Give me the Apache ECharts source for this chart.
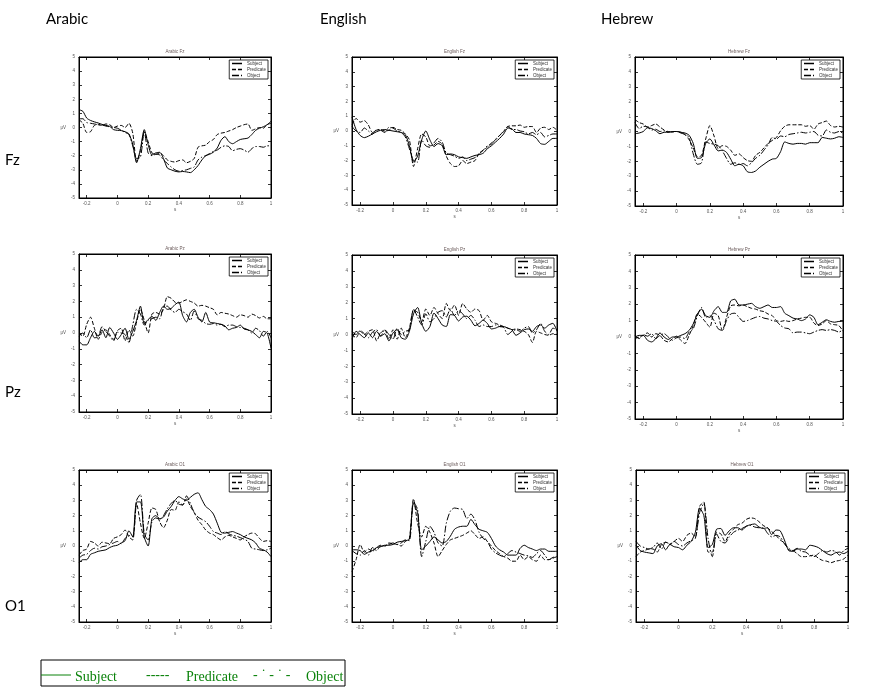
<!DOCTYPE html>
<html><head><meta charset="utf-8">
<script src="https://cdn.jsdelivr.net/npm/echarts@6/dist/echarts.min.js"></script>
<style>html,body{margin:0;padding:0;background:#fff}#c{width:874px;height:692px}</style>
</head><body><div id="c"></div>
<script>
const times = [-0.25,-0.225,-0.2,-0.175,-0.15,-0.125,-0.1,-0.075,-0.05,-0.025,0,
  0.025,0.05,0.075,0.1,0.125,0.15,0.175,0.2,0.225,0.25,
  0.275,0.3,0.325,0.35,0.375,0.4,0.425,0.45,0.475,0.5,
  0.525,0.55,0.575,0.6,0.625,0.65,0.675,0.7,0.725,0.75,
  0.775,0.8,0.825,0.85,0.875,0.9,0.925,0.95,0.975,1];
const xTicks = [-0.2,0,0.2,0.4,0.6,0.8,1];
const yTicks = [-5,-4,-3,-2,-1,0,1,2,3,4,5];
const languages = ['Arabic','English','Hebrew'];
const sites = ['Fz','Pz','O1'];
const conditions = ['Subject','Predicate','Object'];

const arabicFzSubject = [1.26,1.15,0.67,0.5,0.4,0.32,0.22,0.15,0.08,-0.15,-0.2, -0.22,-0.3,-0.45,-1.2,-2.5,-1.5,-0.15,-1.2,-1.95,-1.8, -1.76,-2.2,-2.87,-3.0,-3.1,-3.15,-3.12,-3.15,-3.2,-3.0, -2.7,-2.3,-2.0,-1.9,-1.75,-1.45,-0.9,-0.65,-1.0,-1.15, -1.0,-0.85,-0.8,-0.75,-0.5,-0.2,-0.05,0.05,0.2,0.44];
const arabicFzPredicate = [0.55,0.3,-0.35,-0.3,0.15,0.2,0.15,0.25,0.2,0.0,0.1, 0.15,0.0,0.3,-0.4,-2.4,-1.7,-0.3,-1.0,-1.8,-1.9, -1.8,-2.0,-2.3,-2.4,-2.45,-2.35,-2.3,-2.5,-2.4,-2.2, -1.4,-1.3,-1.25,-1.0,-0.85,-0.5,-0.4,-0.35,-0.25,-0.15, 0.0,0.1,0.2,0.25,-0.2,-0.1,0.0,-0.05,0.2,0.3];
const arabicFzObject = [0.62,0.62,0.35,0.3,0.25,0.2,0.18,0.1,0.05,0.0,-0.05, -0.2,-0.35,-0.5,-1.3,-2.2,-2.1,-0.3,-1.8,-2.0,-1.9, -1.95,-2.3,-2.55,-2.8,-3.0,-3.1,-3.05,-3.0,-2.9,-2.8, -2.3,-2.1,-2.0,-1.85,-1.7,-1.6,-1.4,-1.3,-1.35,-1.65, -1.55,-1.5,-1.6,-1.75,-1.5,-1.35,-1.35,-1.4,-1.3,-1.3];

const englishFzSubject = [0.95,0.1,-0.3,-0.45,-0.35,-0.2,-0.05,0.05,0.1,0.05,0.0, -0.05,-0.1,-0.25,-1.0,-2.1,-1.7,-0.6,0.0,-0.6,-1.05, -0.85,-1.0,-1.6,-1.55,-1.6,-1.75,-1.8,-1.85,-1.75,-1.65, -1.6,-1.5,-1.2,-1.0,-0.75,-0.5,-0.2,0.2,0.15,-0.1, -0.1,-0.2,-0.25,-0.3,-0.5,-0.85,-0.9,-0.7,-0.5,-0.5];
const englishFzPredicate = [0.4,0.85,0.6,0.7,0.4,-0.1,0.05,0.1,0.0,0.05,0.25, 0.1,0.05,-0.2,-0.6,-2.4,-1.2,-0.2,-0.4,-1.0,-0.95, -0.7,-0.9,-1.7,-2.2,-2.4,-2.35,-2.0,-2.2,-2.1,-2.0, -1.5,-1.3,-1.1,-0.8,-0.6,-0.3,-0.05,0.3,0.35,0.35, 0.4,0.25,0.3,0.3,-0.1,0.2,0.25,0.1,0.25,0.05];
const englishFzObject = [0.3,0.0,-0.1,0.2,0.0,-0.2,0.1,0.05,-0.1,0.25,0.2, 0.0,-0.1,-0.4,-1.2,-2.0,-2.1,-0.6,-1.0,-1.1,-0.8, -0.5,-0.75,-1.5,-1.6,-1.7,-1.85,-1.75,-2.0,-1.9,-1.8, -1.55,-1.3,-1.0,-0.9,-0.55,-0.3,0.0,0.3,0.1,0.1, 0.0,-0.05,-0.2,-0.1,-0.25,-0.1,-0.4,-0.3,-0.2,-0.2];

const hebrewFzSubject = [-0.15,-0.1,0.0,0.25,0.2,0.05,-0.15,-0.05,-0.05,0.0,0.0, -0.05,-0.1,-0.25,-0.8,-1.8,-1.75,-0.8,-0.5,-0.9,-1.3, -1.25,-1.4,-1.85,-2.3,-2.2,-2.3,-2.7,-2.75,-2.65,-2.4, -2.2,-2.0,-1.85,-1.8,-1.35,-0.7,-0.8,-0.85,-0.8,-0.8, -0.85,-0.75,-0.75,-0.75,-0.4,-0.45,-0.5,-0.45,-0.35,-0.4];
const hebrewFzPredicate = [0.8,0.6,0.5,0.3,0.4,0.5,0.3,0.1,-0.05,0.0,0.0, -0.05,-0.2,-0.55,-1.1,-1.7,-1.6,-0.5,0.4,-0.3,-1.15, -0.95,-1.0,-1.25,-1.6,-1.5,-1.75,-1.95,-2.0,-1.6,-1.4, -1.1,-0.8,-0.6,-0.4,0.05,0.35,0.45,0.45,0.45,0.45, 0.35,0.4,0.15,0.5,0.6,0.7,0.4,0.3,0.35,0.3];
const hebrewFzObject = [0.6,0.2,0.35,0.3,0.1,0.15,0.0,0.05,0.0,-0.05,0.0, -0.1,-0.2,-0.4,-1.5,-2.2,-2.1,-0.7,-0.8,-0.85,-0.95, -1.3,-1.8,-2.2,-2.1,-2.2,-2.15,-2.3,-2.1,-1.8,-1.6, -1.25,-0.9,-0.4,-0.5,-0.3,-0.35,-0.2,-0.15,-0.1,-0.05, -0.1,-0.05,0.0,-0.25,-0.3,0.1,-0.05,-0.1,0.0,-0.1];

const arabicPzSubject = [-0.5,-0.75,-0.75,-0.3,0.1,-0.2,0.2,-0.3,0.35,0.0,-0.4, -0.1,0.3,-0.4,0.1,0.8,1.7,0.6,0.85,1.05,0.8, 1.3,1.7,1.5,1.55,1.8,1.95,1.1,0.7,1.3,1.5, 1.0,0.7,1.3,0.7,0.65,0.6,0.55,0.45,0.2,0.3, 0.35,0.5,0.25,0.2,0.1,-0.1,-0.3,0.1,0.0,-0.95];
const arabicPzPredicate = [0.0,-0.2,0.55,1.0,0.3,-0.4,0.05,0.2,-0.1,-0.4,0.15, 0.3,-0.5,0.2,-0.2,0.7,1.5,0.8,0.0,1.2,1.3, 1.2,1.5,2.3,2.2,1.95,1.9,2.0,2.1,2.0,1.9, 1.7,1.75,1.7,1.6,1.5,1.15,1.3,1.25,1.2,1.1, 1.0,1.15,1.1,1.0,1.2,1.1,0.95,1.05,0.9,0.9];
const arabicPzObject = [-0.2,0.0,-0.3,0.2,-0.3,-0.25,0.4,0.1,-0.2,-0.5,0.05, 0.0,-0.1,-0.6,0.5,1.5,1.2,0.5,0.8,0.9,1.0, 0.9,1.65,1.7,1.45,1.3,1.5,1.35,1.2,0.8,1.4, 0.9,0.8,0.6,0.55,0.6,0.5,0.55,0.4,0.5,0.5, 0.4,0.35,0.3,0.2,0.0,0.3,0.15,-0.2,0.1,-0.3];

const englishPzSubject = [-0.3,0.2,0.0,-0.2,0.1,-0.2,0.2,-0.1,0.05,-0.4,0.1, 0.3,-0.2,-0.3,0.2,1.3,1.7,0.7,0.2,0.5,1.35, 1.0,0.6,0.5,1.25,1.2,0.85,1.1,1.15,0.9,0.55, 0.7,0.9,0.7,0.35,0.4,0.5,0.5,0.4,0.3,-0.05, 0.1,0.3,0.35,0.2,0.5,0.6,0.4,0.6,0.7,0.2];
const englishPzPredicate = [0.0,-0.2,0.2,0.0,0.2,0.3,-0.4,0.1,0.3,-0.3,0.3, -0.3,0.4,-0.2,0.4,1.5,1.4,0.8,1.6,1.2,1.7, 1.3,1.0,1.95,1.5,1.85,1.2,1.95,1.6,1.4,1.6, 1.5,0.9,1.2,0.8,0.7,0.6,0.5,0.4,0.3,0.35, 0.3,0.2,0.0,-0.5,0.2,0.1,0.0,-0.05,0.05,0.0];
const englishPzObject = [0.2,0.0,0.25,0.05,-0.2,0.15,0.3,-0.1,0.3,0.0,-0.3, 0.4,0.0,0.2,0.3,1.6,1.1,0.6,1.3,0.8,1.0, 1.4,1.5,1.1,1.6,1.2,1.5,1.3,1.0,1.2,0.9, 0.5,0.6,0.5,0.5,0.6,0.5,0.45,0.0,0.2,0.3, 0.2,0.4,0.5,0.1,0.3,0.7,0.2,0.0,0.4,0.3];

const hebrewPzSubject = [0.0,0.1,0.1,-0.2,-0.3,-0.1,0.25,0.0,-0.15,0.0,0.0, 0.1,0.2,0.4,0.8,1.4,1.7,1.3,1.2,1.6,1.85, 1.5,1.5,2.2,2.3,1.95,1.95,2.0,2.05,1.85,1.75, 1.85,1.95,1.8,1.8,1.85,1.45,1.3,1.15,1.1,1.0, 1.1,1.35,1.2,0.75,0.9,1.05,0.95,0.9,0.95,0.95];
const hebrewPzPredicate = [-0.1,0.0,0.1,0.25,0.0,0.2,0.1,-0.2,-0.3,-0.1,0.05, -0.2,-0.4,0.1,0.7,1.4,1.2,0.9,0.6,1.45,1.3, 0.4,1.2,1.9,1.95,1.9,1.95,1.85,1.75,1.7,1.6, 1.55,1.4,1.3,1.0,0.95,1.0,0.95,1.0,1.1,1.15, 1.2,1.2,0.85,0.7,0.8,1.0,0.8,0.75,0.7,0.35];
const hebrewPzObject = [0.1,-0.1,0.15,0.05,0.2,-0.1,0.1,0.2,0.0,-0.2,-0.05, 0.0,-0.1,0.3,0.5,1.3,1.8,1.2,1.3,1.0,0.5, 0.4,1.0,1.4,1.45,1.2,0.95,1.0,1.1,1.2,1.25, 1.15,1.1,1.0,0.95,0.7,0.55,0.5,0.25,0.3,0.3, 0.25,0.2,0.3,0.4,0.45,0.4,0.45,0.4,0.3,0.45];

const arabicO1Subject = [-1.1,-0.9,-0.9,-0.55,-0.45,-0.35,-0.3,-0.25,-0.1,0.0,0.05, 0.2,0.35,1.0,0.6,2.9,2.9,0.6,0.0,1.8,2.0, 1.8,1.9,2.3,2.6,3.0,3.25,3.1,3.0,3.2,3.4, 3.5,3.05,2.6,2.4,2.1,1.5,0.9,0.85,0.9,0.95, 0.85,0.75,0.6,0.5,0.4,0.2,-0.15,-0.25,-0.4,-0.7];
const arabicO1Predicate = [-0.6,-0.3,-0.2,0.3,0.2,0.0,0.25,0.2,0.15,0.5,0.6, 0.75,1.05,0.6,0.4,2.8,1.5,0.5,1.5,2.5,2.4, 1.6,1.2,1.7,2.4,2.35,2.9,2.7,3.1,2.6,2.2, 1.7,1.4,1.05,0.85,0.75,0.55,0.4,0.6,0.7,0.6, 0.5,0.4,0.6,0.75,0.85,0.8,0.5,0.3,0.35,0.3];
const arabicO1Object = [-0.8,-0.6,-0.55,-0.3,-0.15,-0.2,-0.05,0.0,0.1,0.2,0.3, 0.15,0.5,0.7,0.6,3.0,3.4,0.8,0.4,1.6,1.85, 1.75,2.0,2.45,2.8,3.0,2.75,2.7,3.3,2.8,2.2, 1.9,1.75,1.6,1.3,0.95,0.85,0.75,0.95,0.8,0.7, 0.65,0.55,0.45,0.3,-0.15,-0.2,-0.25,-0.3,-0.25,-0.15];

const englishO1Subject = [-0.25,-0.25,-0.3,-0.55,-0.4,-0.3,-0.1,-0.05,0.05,0.05,0.1, 0.25,0.3,0.35,0.45,2.8,2.2,-0.25,0.0,0.3,0.6, 0.4,0.2,0.3,0.65,1.1,1.25,1.3,1.3,1.75,1.4, 1.1,1.0,0.9,0.5,0.0,-0.25,-0.4,-0.6,-0.6,-0.6, -0.15,0.05,-0.1,-0.2,-0.3,-0.2,-0.2,-0.35,-0.35,-0.35];
const englishO1Predicate = [-1.7,-0.9,0.1,-0.4,-0.2,-0.35,-0.1,0.05,0.0,0.2,0.15, 0.1,0.0,0.3,0.5,3.1,1.5,0.6,1.3,0.9,0.2, -0.7,-0.3,0.1,0.4,0.5,0.6,0.7,0.85,1.0,0.75, 0.5,0.6,0.3,0.0,-0.3,-0.5,-0.7,-0.8,-1.0,-1.0, -0.6,-0.9,-0.7,-0.9,-1.0,-0.6,-0.9,-0.9,-0.8,-0.7];
const englishO1Object = [-0.3,-0.5,-0.6,-0.3,-0.6,-0.1,-0.3,0.0,0.0,0.1,0.2, 0.1,0.2,0.4,0.35,2.9,2.4,-0.7,0.3,1.3,0.9, 0.2,0.0,1.5,2.3,2.5,2.45,2.4,1.8,2.1,1.7, 0.9,0.5,0.3,-0.2,-0.45,-0.6,-0.7,-0.5,-0.3,-0.4, -0.5,-0.6,-0.65,-0.75,-0.5,-0.3,-0.6,-0.9,-0.75,-0.7];

const hebrewO1Subject = [0.05,-0.3,-0.4,-0.45,-0.5,0.0,0.15,-0.25,0.1,-0.05,-0.1, -0.25,0.05,0.3,0.9,2.5,2.0,-0.1,0.1,1.1,1.15, 0.7,1.0,1.2,1.2,1.05,1.3,1.4,1.45,1.25,1.15, 1.2,0.75,1.05,1.0,0.4,-0.3,-0.35,-0.2,-0.2,-0.25, 0.05,0.0,-0.1,-0.3,-0.5,-0.6,-0.45,-0.4,-0.5,-0.35];
const hebrewO1Predicate = [-0.7,-0.4,-0.3,-0.2,-0.2,-0.4,0.1,0.25,0.1,0.3,0.5, 0.3,0.7,0.85,0.6,2.6,2.9,-0.4,-0.4,0.9,0.8, 0.3,0.8,1.1,1.4,1.5,1.75,1.85,1.8,1.6,1.35, 1.2,0.95,0.7,0.4,0.2,-0.25,-0.3,-0.5,-0.7,-0.7, -0.65,-0.6,-0.8,-0.95,-1.0,-1.1,-1.0,-0.95,-0.85,-0.6];
const hebrewO1Object = [0.3,0.0,-0.1,-0.2,-0.1,0.2,-0.2,0.25,0.15,0.3,0.1, 0.0,0.2,0.35,0.5,2.2,2.8,0.5,-0.7,0.8,0.3, 0.2,0.6,0.9,1.05,1.15,1.3,1.35,1.25,1.2,1.2, 0.85,0.6,0.7,0.6,0.15,-0.15,-0.3,-0.15,-0.35,-0.4, -0.6,-0.7,-0.5,-0.3,-0.4,-0.3,-0.35,-0.6,-0.3,-0.15];

// panels in row-major order (row = site, column = language)
const panelData = [
  [arabicFzSubject, arabicFzPredicate, arabicFzObject],
  [englishFzSubject, englishFzPredicate, englishFzObject],
  [hebrewFzSubject, hebrewFzPredicate, hebrewFzObject],
  [arabicPzSubject, arabicPzPredicate, arabicPzObject],
  [englishPzSubject, englishPzPredicate, englishPzObject],
  [hebrewPzSubject, hebrewPzPredicate, hebrewPzObject],
  [arabicO1Subject, arabicO1Predicate, arabicO1Object],
  [englishO1Subject, englishO1Predicate, englishO1Object],
  [hebrewO1Subject, hebrewO1Predicate, hebrewO1Object]
];

// layout (plot-area boxes in pixels: left, top, width, height)
const panelBoxes = [
  [79,57,192,141],[352,57,205,148],[635,57,208,149],
  [79,254,192,158],[352,255,205,159],[635,255,208,164],
  [79,470,192,152],[352,470,205,152],[636,470,212,152]
];
const lineTypes = ['solid',[4,2],[7,2,1.5,2]];
const W = 874;

const grids = [], xAxes = [], yAxes = [], series = [], legends = [], graphics = [];
panelBoxes.forEach((b, i) => {
  const [L, T, Wd, H] = b;
  grids.push({left:L, top:T, width:Wd, height:H, show:true, borderColor:'#000', borderWidth:1,
    backgroundColor:'#fff', containLabel:false, outerBoundsMode:'none'});
  const tickStyle = {color:'#000', width:0.8};
  const common = {gridIndex:i, type:'value', splitLine:{show:false},
    axisLine:{show:true, onZero:false, lineStyle:{color:'#000', width:1}}};
  xAxes.push(Object.assign({}, common, {min:-0.25, max:1, position:'bottom',
    axisTick:{show:true, inside:true, length:3, customValues:xTicks, lineStyle:tickStyle},
    axisLabel:{show:true, customValues:xTicks, fontSize:4.5, color:'#555', margin:3,
      formatter:v => String(Math.round(v*10)/10)},
    name:'s', nameLocation:'middle', nameGap:8, nameTextStyle:{fontSize:4.5, color:'#555'}}));
  xAxes.push(Object.assign({}, common, {min:-0.25, max:1, position:'top',
    axisTick:{show:true, inside:true, length:3, customValues:xTicks, lineStyle:tickStyle},
    axisLabel:{show:false}}));
  yAxes.push(Object.assign({}, common, {min:-5, max:5, interval:1, position:'left',
    axisTick:{show:true, inside:true, length:3, lineStyle:tickStyle},
    axisLabel:{show:true, fontSize:4.5, color:'#555', margin:4},
    name:'μV', nameLocation:'middle', nameGap:9, nameRotate:0,
    nameTextStyle:{fontSize:4.5, color:'#555'}}));
  yAxes.push(Object.assign({}, common, {min:-5, max:5, interval:1, position:'right',
    axisTick:{show:true, inside:true, length:3, lineStyle:tickStyle},
    axisLabel:{show:false}}));
  panelData[i].forEach((vals, c) => {
    series.push({type:'line', name:conditions[c], xAxisIndex:2*i, yAxisIndex:2*i,
      data: times.map((t, k) => [t, vals[k]]), symbol:'none', smooth:0.25,
      silent:true, animation:false, color:'#000', itemStyle:{color:'#000'},
      lineStyle:{color:'#000', width:1, type:lineTypes[c]}});
  });
  legends.push({show:true, orient:'vertical', data:conditions, right: W - (L + Wd) + 3, top: T + 3,
    itemWidth:10, itemHeight:4, itemGap:1, itemTextGap:3, padding:[1,2,1,2],
    borderColor:'#000', borderWidth:0.8, backgroundColor:'#fff', selectedMode:false,
    itemStyle:{color:'#000', borderWidth:0, opacity:0}, lineStyle:{color:'#000', width:1.5},
    textStyle:{fontSize:4.5, color:'#333'}});
  const row = Math.floor(i / 3), col = i % 3;
  graphics.push({type:'text', x: L + Wd / 2, y: T - 5,
    style:{text: languages[col] + ' ' + sites[row], fontSize:4.5, fill:'#6a5a5a', align:'center', verticalAlign:'middle'}});
});

const headerFont = '15px Lato, "Open Sans", sans-serif';
const headerX = [46, 320, 601];
languages.forEach((lang, j) => graphics.push({type:'text', x: headerX[j], y: 19,
  style:{text: lang, font: headerFont, fill:'#000', verticalAlign:'middle'}}));
const rowY = [160, 392, 606];
sites.forEach((s, j) => graphics.push({type:'text', x: 5, y: rowY[j],
  style:{text: s, font: headerFont, fill:'#000', verticalAlign:'middle'}}));

const green = '#0a820a';
const serif = '14px "Liberation Serif", "DejaVu Serif", serif';
graphics.push(
  {type:'rect', shape:{x:41, y:660, width:304, height:26}, style:{fill:'none', stroke:'#000', lineWidth:1}},
  {type:'line', shape:{x1:41, y1:675, x2:71, y2:675}, style:{stroke:green, lineWidth:1}},
  {type:'text', x:75, y:677, style:{text:'Subject', font:serif, fill:green, verticalAlign:'middle'}},
  {type:'text', x:146, y:675, style:{text:'-----', font:serif, fill:green, verticalAlign:'middle'}},
  {type:'text', x:186, y:677, style:{text:'Predicate', font:serif, fill:green, verticalAlign:'middle'}},
  {type:'text', x:253, y:675, style:{text:'- ˙ - ˙ -', font:serif, fill:green, verticalAlign:'middle'}},
  {type:'text', x:306, y:677, style:{text:'Object', font:serif, fill:green, verticalAlign:'middle'}}
);

const chart = echarts.init(document.getElementById('c'), null, {renderer:'canvas'});
chart.setOption({
  backgroundColor:'#fff', animation:false,
  grid: grids, xAxis: xAxes, yAxis: yAxes, series: series, legend: legends,
  graphic: graphics
});
</script></body></html>
